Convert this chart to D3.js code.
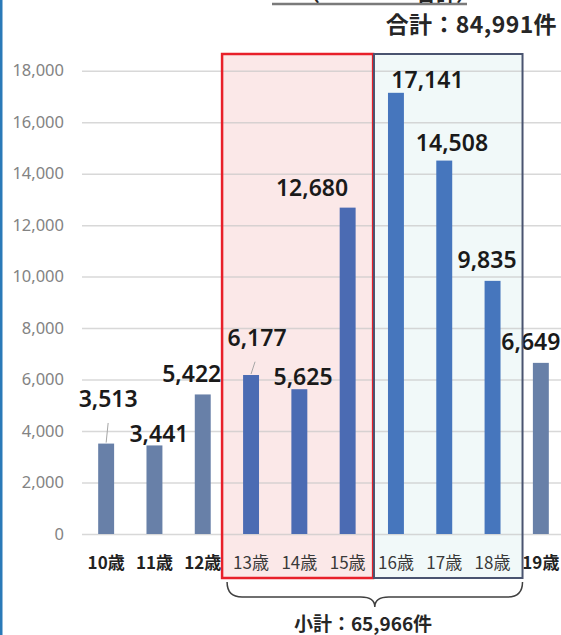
<!DOCTYPE html>
<html><head><meta charset="utf-8">
<script src="https://cdn.jsdelivr.net/npm/d3@7"></script>
<style>
html,body{margin:0;padding:0;background:#fff;overflow:hidden;}
svg{display:block;}
</style></head>
<body>
<script>
// ---- data ----
const categories = ["10歳","11歳","12歳","13歳","14歳","15歳","16歳","17歳","18歳","19歳"];
const values = [3513, 3441, 5422, 6177, 5625, 12680, 17141, 14508, 9835, 6649];
const groups = ["other","other","other","mid","mid","mid","high","high","high","other"];
const yTicks = [0, 2000, 4000, 6000, 8000, 10000, 12000, 14000, 16000, 18000];
const totalText = "合計：84,991件";
const subtotalText = "小計：65,966件";
const redGroup = ["13歳","14歳","15歳"];
const tealGroup = ["16歳","17歳","18歳"];

// ---- layout (label offsets from bar centre / top) ----
const labelDX = [2, 4.5, -11, 6, 3.7, -35.6, 31.5, 7.7, -5.5, -10];
const labelDY = [-36.6, -3.7, -12.7, -29.3, -4.2, -11.6, -4.5, -9.9, -12.6, -12.9];
const leaders = {"10歳": true, "13歳": true};

const W = 561, H = 635;
const svg = d3.select("body").append("svg").attr("width", W).attr("height", H);

const x = d3.scaleBand().domain(categories).range([82, 565]).paddingInner(0.67).paddingOuter(0.335);
const y = d3.scaleLinear().domain([0, 18000]).range([534, 70.7]);
const fmt = d3.format(",");

const barColor = {other: "#6880a8", mid: "#4b6bb3", high: "#4676bd"};

// left blue border
svg.append("rect").attr("x", 0).attr("y", 0).attr("width", 2.5).attr("height", H).attr("fill", "#2a7ab8");

// group boxes (fills)
const boxTop = 54, boxBottom = 578;
const redL = x(redGroup[0]) - 21, redR = x(redGroup[2]) + x.bandwidth() + 17.5;
const tealL = x(tealGroup[0]) - 14, tealR = x(tealGroup[2]) + x.bandwidth() + 22;
svg.append("rect").attr("x", redL).attr("y", boxTop).attr("width", redR - redL).attr("height", boxBottom - boxTop)
  .attr("fill", "#fbe8e8");
svg.append("rect").attr("x", tealL).attr("y", boxTop).attr("width", tealR - tealL).attr("height", boxBottom - boxTop)
  .attr("fill", "#f1f9f9");

// y axis (gridlines + labels)
const yAxis = d3.axisLeft(y).tickValues(yTicks).tickFormat(fmt).tickSize(-(W - 82)).tickPadding(18);
const gy = svg.append("g").attr("transform", "translate(82,0)").call(yAxis);
gy.select(".domain").remove();
gy.selectAll(".tick line").attr("stroke", "#c8c8c8").attr("stroke-opacity", 0.7).attr("stroke-width", 1.5);
gy.selectAll(".tick text").attr("fill", "#838383").attr("font-family", "'Noto Sans', sans-serif")
  .attr("font-size", "16.5px").attr("x", -18);

// bars
svg.append("g").selectAll("rect").data(categories).join("rect")
  .attr("x", d => x(d)).attr("width", x.bandwidth())
  .attr("y", (d, i) => y(values[i])).attr("height", (d, i) => y(0) - y(values[i]))
  .attr("fill", (d, i) => barColor[groups[i]]);

// x axis labels
const xAxis = d3.axisBottom(x).tickSize(0).tickPadding(0);
const gx = svg.append("g").attr("transform", "translate(0,569)").call(xAxis);
gx.select(".domain").remove();
gx.selectAll(".tick text")
  .attr("dy", 0)
  .attr("fill", (d, i) => groups[i] === "other" ? "#222" : "#3a3a3a")
  .attr("font-family", "'Noto Sans CJK JP', sans-serif")
  .attr("font-size", "17px")
  .attr("font-weight", (d, i) => groups[i] === "other" ? 700 : 400);

// leader lines
categories.forEach((c, i) => {
  if (!leaders[c]) return;
  const cx = x(c) + x.bandwidth() / 2;
  svg.append("line")
    .attr("x1", cx + labelDX[i] * 0.5 + 1).attr("y1", y(values[i]) + labelDY[i] + 16)
    .attr("x2", cx).attr("y2", y(values[i]) - 1)
    .attr("stroke", "#a6a6a6").attr("stroke-width", 1);
});

// data labels
svg.append("g").selectAll("text").data(categories).join("text")
  .attr("x", (d, i) => x(d) + x.bandwidth() / 2 + labelDX[i])
  .attr("y", (d, i) => y(values[i]) + labelDY[i])
  .attr("text-anchor", "middle")
  .attr("font-family", "'Noto Sans', sans-serif")
  .attr("font-size", "23px").attr("font-weight", 600).attr("fill", "#1a1a1a")
  .text((d, i) => fmt(values[i]));

// box outlines
svg.append("rect").attr("x", redL).attr("y", boxTop).attr("width", redR - redL).attr("height", boxBottom - boxTop)
  .attr("fill", "none").attr("stroke", "#e8202a").attr("stroke-width", 2.5);
svg.append("rect").attr("x", tealL).attr("y", boxTop).attr("width", tealR - tealL).attr("height", boxBottom - boxTop)
  .attr("fill", "none").attr("stroke", "#4a5470").attr("stroke-width", 2);

// brace
const bL = redL + 5, bR = tealR, bM = (bL + bR) / 2, bTop = 582, bMid = 597, bTip = 607;
const brace = d3.path();
brace.moveTo(bL, bTop);
brace.quadraticCurveTo(bL, bMid, bL + 15, bMid);
brace.lineTo(bM - 14, bMid);
brace.quadraticCurveTo(bM, bMid, bM, bTip);
brace.quadraticCurveTo(bM, bMid, bM + 14, bMid);
brace.lineTo(bR - 15, bMid);
brace.quadraticCurveTo(bR, bMid, bR, bTop);
svg.append("path").attr("d", brace.toString()).attr("fill", "none").attr("stroke", "#404040").attr("stroke-width", 1.5);

// subtotal
svg.append("text").attr("x", 363).attr("y", 631).attr("text-anchor", "middle")
  .attr("font-family", "'Noto Sans CJK JP', sans-serif").attr("font-size", "19px").attr("font-weight", 700)
  .attr("fill", "#262626").text(subtotalText);

// total
svg.append("text").attr("x", 557).attr("y", 33).attr("text-anchor", "end")
  .attr("font-family", "'Noto Sans CJK JP', sans-serif").attr("font-size", "23px").attr("font-weight", 700)
  .attr("letter-spacing", "0.4px")
  .attr("fill", "#262626").text(totalText);

// cut-off title remnants
svg.append("line").attr("x1", 272).attr("x2", 467).attr("y1", 4).attr("y2", 4).attr("stroke", "#7a7a7a").attr("stroke-width", 2.5);
svg.append("text").attr("x", 300).attr("y", 1).attr("font-family", "'Noto Sans CJK JP', sans-serif")
  .attr("font-size", "20px").attr("font-weight", 700).attr("fill", "#262626").text("（");
svg.append("text").attr("x", 476).attr("y", 1).attr("text-anchor", "end").attr("font-family", "'Noto Sans CJK JP', sans-serif")
  .attr("font-size", "20px").attr("font-weight", 700).attr("fill", "#262626").text("合計）");
</script>
</body></html>
